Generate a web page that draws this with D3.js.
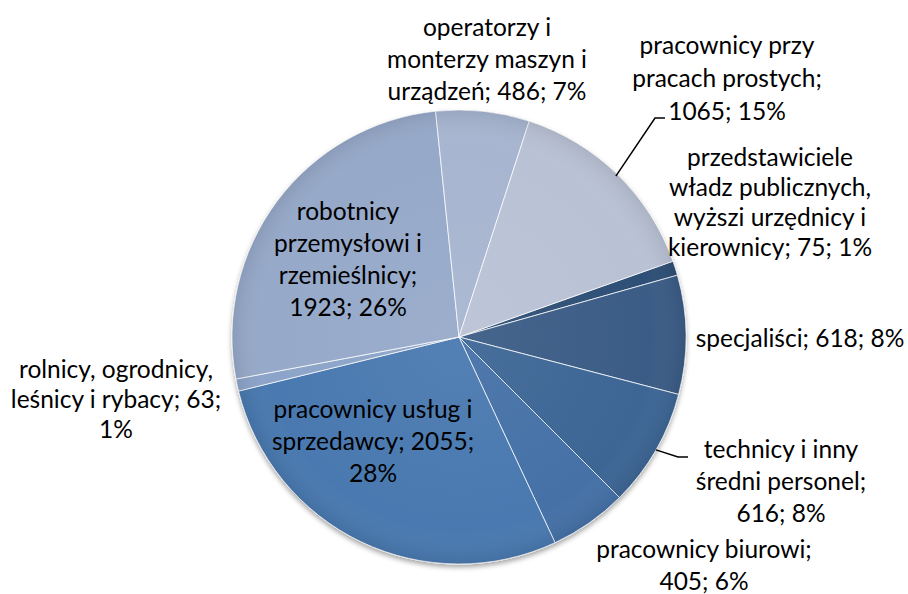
<!DOCTYPE html>
<html>
<head>
<meta charset="utf-8">
<script src="https://cdn.jsdelivr.net/npm/d3@7"></script>
<style>
html,body{margin:0;padding:0;background:#fff;}
svg{display:block;}
text{font-family:Lato,"Open Sans",sans-serif;fill:#000;}
</style>
</head>
<body>
<svg id="chart" width="908" height="594"></svg>
<script>
const categories = [
  "przedstawiciele władz publicznych, wyższi urzędnicy i kierownicy",
  "specjaliści",
  "technicy i inny średni personel",
  "pracownicy biurowi",
  "pracownicy usług i sprzedawcy",
  "rolnicy, ogrodnicy, leśnicy i rybacy",
  "robotnicy przemysłowi i rzemieślnicy",
  "operatorzy i monterzy maszyn i urządzeń",
  "pracownicy przy pracach prostych"
];
const values = [75, 618, 616, 405, 2055, 63, 1923, 486, 1065];
const percents = ["1%", "8%", "8%", "6%", "28%", "1%", "26%", "7%", "15%"];
const colors = ["#2f4f76", "#3a5b86", "#3d6695", "#4471a7", "#4a79b0", "#8ca4c9", "#96a9c9", "#a7b5d0", "#b9c2d5"];
// label text lines
const labelLines = [
  ["przedstawiciele", "władz publicznych,", "wyższi urzędnicy i", "kierownicy; 75; 1%"],
  ["specjaliści; 618; 8%"],
  ["technicy i inny", "średni personel;", "616; 8%"],
  ["pracownicy biurowi;", "405; 6%"],
  ["pracownicy usług i", "sprzedawcy; 2055;", "28%"],
  ["rolnicy, ogrodnicy,", "leśnicy i rybacy; 63;", "1%"],
  ["robotnicy", "przemysłowi i", "rzemieślnicy;", "1923; 26%"],
  ["operatorzy i", "monterzy maszyn i", "urządzeń; 486; 7%"],
  ["pracownicy przy", "pracach prostych;", "1065; 15%"]
];

const W = 908, H = 594;
const cx = 459, cy = 337, R = 227;
const startDeg = 70.5;
// label placement: center x, first baseline y, line height (layout)
const labelPos = [
  [770, 166, 30], [800, 347, 32], [781, 458, 32], [704, 558, 32],
  [373, 418, 32], [116, 378, 30], [348, 220, 32], [487, 36, 32], [727, 54, 33]
];

const svg = d3.select("#chart");
const defs = svg.append("defs");
const f = defs.append("filter").attr("id", "sh").attr("x", "-10%").attr("y", "-10%").attr("width", "120%").attr("height", "125%");
f.append("feDropShadow").attr("dx", 0).attr("dy", 3).attr("stdDeviation", 2.5).attr("flood-color", "#000").attr("flood-opacity", 0.35);

const rg = defs.append("radialGradient").attr("id", "shade").attr("cx", "50%").attr("cy", "50%").attr("r", "50%");
rg.append("stop").attr("offset", "0%").attr("stop-color", "#fff").attr("stop-opacity", 0.06);
rg.append("stop").attr("offset", "85%").attr("stop-color", "#fff").attr("stop-opacity", 0.0);
rg.append("stop").attr("offset", "100%").attr("stop-color", "#000").attr("stop-opacity", 0.08);

const pie = d3.pie().sort(null).value(d => d)
  .startAngle(startDeg * Math.PI / 180)
  .endAngle(startDeg * Math.PI / 180 + 2 * Math.PI);
const arcs = pie(values);
const arc = d3.arc().innerRadius(0).outerRadius(R);

const g = svg.append("g").attr("transform", `translate(${cx},${cy})`);
const gp = g.append("g").attr("filter", "url(#sh)");
gp.selectAll("path.slice").data(arcs).enter().append("path")
  .attr("class", "slice")
  .attr("d", arc)
  .attr("fill", (d, i) => colors[i])
  .attr("stroke", "rgba(255,255,255,0.75)")
  .attr("stroke-width", 1)
  .attr("stroke-linejoin", "round");
g.append("circle").attr("r", R).attr("fill", "url(#shade)").attr("pointer-events", "none");

// leader lines
const leaders = [
  { i: 8, k: 0.99, pts: [[655, 118], [665, 118]] },
  { i: 2, k: 1.0, pts: [[678, 457], [688, 457]] }
];
leaders.forEach(L => {
  const a = arcs[L.i];
  const mid = (a.startAngle + a.endAngle) / 2;
  const p0 = [cx + R * L.k * Math.sin(mid), cy - R * L.k * Math.cos(mid)];
  const pts = [p0].concat(L.pts);
  svg.append("path").attr("d", d3.line()(pts)).attr("fill", "none").attr("stroke", "#000").attr("stroke-width", 1.5);
});

// labels
labelLines.forEach((lines, i) => {
  const [x, y0, lh] = labelPos[i];
  const t = svg.append("text").attr("text-anchor", "middle").attr("font-size", 24.5);
  lines.forEach((ln, j) => {
    t.append("tspan").attr("x", x).attr("y", y0 + j * lh).text(ln);
  });
});
</script>
</body>
</html>
